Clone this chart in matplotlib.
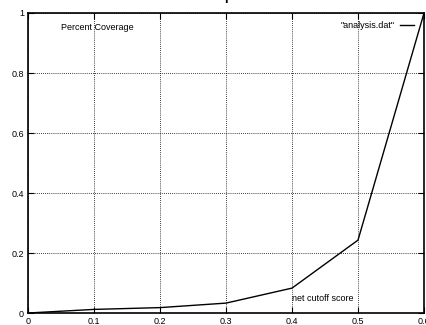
import matplotlib
matplotlib.use("Agg")
import matplotlib.pyplot as plt

cutoff = [0.0, 0.1, 0.2, 0.3, 0.4, 0.5, 0.6]
coverage = [0.0, 0.012, 0.018, 0.033, 0.083, 0.243, 1.0]
xticks = [0, 0.1, 0.2, 0.3, 0.4, 0.5, 0.6]
xlabels = ["0", "0.1", "0.2", "0.3", "0.4", "0.5", "0.6"]
yticks = [0, 0.2, 0.4, 0.6, 0.8, 1]
ylabels = ["0", "0.2", "0.4", "0.6", "0.8", "1"]

plt.rcParams['font.family'] = ['Liberation Sans', 'DejaVu Sans']

fig = plt.figure(figsize=(4.27, 3.25), dpi=100)
ax = fig.add_axes([0.0656, 0.0369, 0.9274, 0.9231])

ax.plot(cutoff, coverage, color='black', lw=1.0, label='"analysis.dat"')
ax.set_xlim(0, 0.6)
ax.set_ylim(0, 1)
ax.set_xticks(xticks)
ax.set_xticklabels(xlabels)
ax.set_yticks(yticks)
ax.set_yticklabels(ylabels)
ax.tick_params(direction='in', length=4, width=0.8, labelsize=6.5, pad=3,
               top=True, right=True, colors='black')
ax.grid(True, color='black', linestyle=(0, (1, 1.5)), lw=0.6)
for s in ax.spines.values():
    s.set_linewidth(1.2)

ax.text(0.083, 0.953, "Percent Coverage", fontsize=6.5, transform=ax.transAxes,
        va='center', ha='left')
ax.text(0.4, 0.05, "net cutoff score", fontsize=6.5, va='center', ha='left')

leg = ax.legend(loc='upper right', fontsize=6.5, frameon=False, handlelength=1.55,
                handletextpad=0.55, markerfirst=False, borderaxespad=0.3,
                bbox_to_anchor=(0.99, 0.995))

fig.text(0.529, 1.0, "I", fontsize=9, fontweight='bold', ha='center', va='center')

fig.savefig("out.png", dpi=100)
